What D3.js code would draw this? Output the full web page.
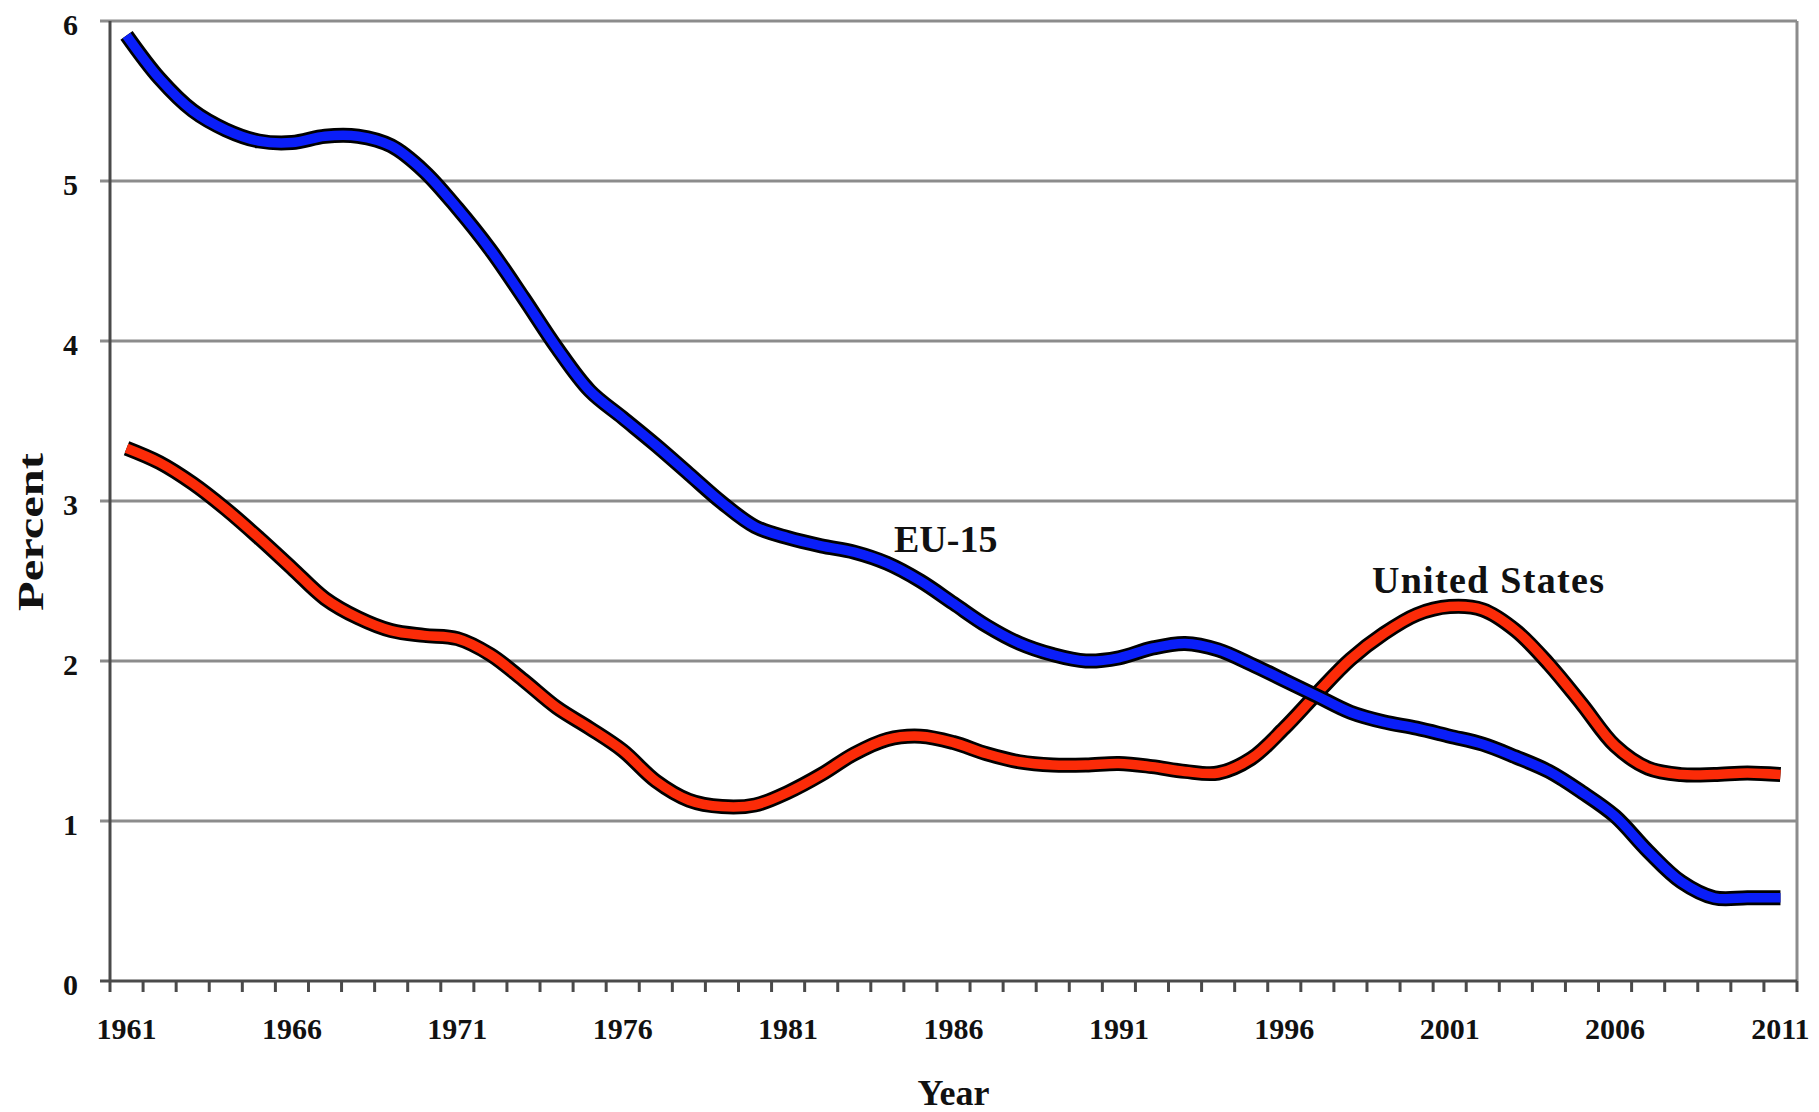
<!DOCTYPE html>
<html lang="en">
<head>
    <meta charset="UTF-8">
    <title>EU-15 vs United States - Percent</title>
    <script src="https://cdn.jsdelivr.net/npm/d3@7"></script>
    <style>
        html, body { margin: 0; padding: 0; background: #fff; }
        svg { display: block; }
        text { font-family: "Liberation Serif", "Times New Roman", serif; font-weight: bold; fill: #111; }
    </style>
</head>
<body>
    <div id="chart"></div>

    <script>
        // Years on the category axis
        const years = d3.range(1961, 2012);

        // EU-15 series (blue)
        const euValues = [
            5.91, 5.64, 5.44, 5.32, 5.25, 5.24, 5.28, 5.28, 5.22, 5.06,
            4.83, 4.57, 4.27, 3.96, 3.69, 3.52, 3.35, 3.17, 2.99, 2.84,
            2.77, 2.72, 2.68, 2.61, 2.50, 2.36, 2.22, 2.11, 2.04, 2.00,
            2.02, 2.08, 2.11, 2.07, 1.98, 1.88, 1.78, 1.68, 1.62, 1.58,
            1.53, 1.48, 1.40, 1.31, 1.18, 1.03, 0.81, 0.62, 0.52, 0.52,
            0.52
        ];

        // United States series (red)
        const usValues = [
            3.33, 3.24, 3.11, 2.95, 2.77, 2.58, 2.39, 2.27, 2.19, 2.16,
            2.14, 2.04, 1.88, 1.71, 1.58, 1.44, 1.25, 1.13, 1.09, 1.10,
            1.18, 1.29, 1.42, 1.51, 1.53, 1.49, 1.42, 1.37, 1.35, 1.35,
            1.36, 1.34, 1.31, 1.30, 1.39, 1.58, 1.80, 2.01, 2.17, 2.29,
            2.34, 2.32, 2.19, 1.98, 1.73, 1.47, 1.33, 1.29, 1.29, 1.30,
            1.29
        ];

        const yTicks = [0, 1, 2, 3, 4, 5, 6];
        const xLabelYears = [1961, 1966, 1971, 1976, 1981, 1986, 1991, 1996, 2001, 2006, 2011];

        // Series labels placed in data units (year, percent)
        const seriesLabels = [
            { text: 'EU-15', year: 1984.2, value: 2.68 },
            { text: 'United States', year: 1998.65, value: 2.425 }
        ];

        const width = 1819, height = 1112;
        const plot = { left: 110, right: 1797, top: 21, bottom: 981 };

        const svg = d3.select('#chart').append('svg')
            .attr('width', width)
            .attr('height', height);

        // categories sit in the middle of each band, ticks on band edges
        const x = d3.scaleLinear()
            .domain([1960.5, 2011.5])
            .range([plot.left, plot.right]);

        const y = d3.scaleLinear()
            .domain([0, 6])
            .range([plot.bottom, plot.top]);

        // horizontal gridlines (with small outward ticks)
        svg.append('g')
            .selectAll('line')
            .data(yTicks.filter(d => d > 0))
            .join('line')
            .attr('x1', plot.left - 10)
            .attr('x2', plot.right)
            .attr('y1', d => y(d))
            .attr('y2', d => y(d))
            .attr('stroke', '#8c8c8c')
            .attr('stroke-width', 3);

        // right border of plot area
        svg.append('line')
            .attr('x1', plot.right).attr('x2', plot.right)
            .attr('y1', plot.top).attr('y2', plot.bottom)
            .attr('stroke', '#8c8c8c')
            .attr('stroke-width', 3);

        // y axis line
        svg.append('line')
            .attr('x1', plot.left).attr('x2', plot.left)
            .attr('y1', plot.top).attr('y2', plot.bottom)
            .attr('stroke', '#4a4a4a')
            .attr('stroke-width', 3);

        // y tick labels
        svg.append('g')
            .selectAll('text')
            .data(yTicks)
            .join('text')
            .attr('x', 78)
            .attr('y', d => y(d))
            .attr('dy', 14)
            .attr('text-anchor', 'end')
            .attr('font-size', 30)
            .text(d => d);

        // x axis line + tick marks at band edges
        const tickEdges = d3.range(1960.5, 2012, 1);
        svg.append('line')
            .attr('x1', plot.left - 10).attr('x2', plot.right)
            .attr('y1', plot.bottom).attr('y2', plot.bottom)
            .attr('stroke', '#4a4a4a')
            .attr('stroke-width', 3);

        svg.append('g')
            .selectAll('line')
            .data(tickEdges)
            .join('line')
            .attr('x1', d => x(d))
            .attr('x2', d => x(d))
            .attr('y1', plot.bottom)
            .attr('y2', plot.bottom + 11)
            .attr('stroke', '#4a4a4a')
            .attr('stroke-width', 3);

        svg.append('g')
            .selectAll('text')
            .data(xLabelYears)
            .join('text')
            .attr('x', d => x(d))
            .attr('y', 1039)
            .attr('text-anchor', 'middle')
            .attr('font-size', 30)
            .text(d => d);

        // axis titles
        svg.append('text')
            .attr('x', (plot.left + plot.right) / 2)
            .attr('y', 1105)
            .attr('text-anchor', 'middle')
            .attr('font-size', 36)
            .text('Year');

        svg.append('text')
            .attr('transform', 'translate(43,532) rotate(-90)')
            .attr('text-anchor', 'middle')
            .attr('font-size', 36)
            .attr('textLength', 158)
            .attr('lengthAdjust', 'spacingAndGlyphs')
            .text('Percent');

        // lines: black outline drawn under the coloured stroke, smoothed like the original
        const line = d3.line()
            .x((d, i) => x(years[i]))
            .y(d => y(d))
            .curve(d3.curveCatmullRom.alpha(0.5));

        const series = [
            { values: usValues, color: '#fb2b08' },
            { values: euValues, color: '#0a1ef8' }
        ];

        series.forEach(s => {
            svg.append('path')
                .datum(s.values)
                .attr('d', line)
                .attr('fill', 'none')
                .attr('stroke', '#000')
                .attr('stroke-width', 15)
                .attr('stroke-linejoin', 'round')
                .attr('stroke-linecap', 'butt');

            svg.append('path')
                .datum(s.values)
                .attr('d', line)
                .attr('fill', 'none')
                .attr('stroke', s.color)
                .attr('stroke-width', 9.5)
                .attr('stroke-linejoin', 'round')
                .attr('stroke-linecap', 'butt');
        });

        // series labels
        svg.append('g')
            .selectAll('text')
            .data(seriesLabels)
            .join('text')
            .attr('x', d => x(d.year))
            .attr('y', d => y(d.value))
            .attr('font-size', 38)
            .attr('letter-spacing', d => d.text.length > 6 ? 1.3 : 0)
            .text(d => d.text);
    </script>
</body>
</html>
